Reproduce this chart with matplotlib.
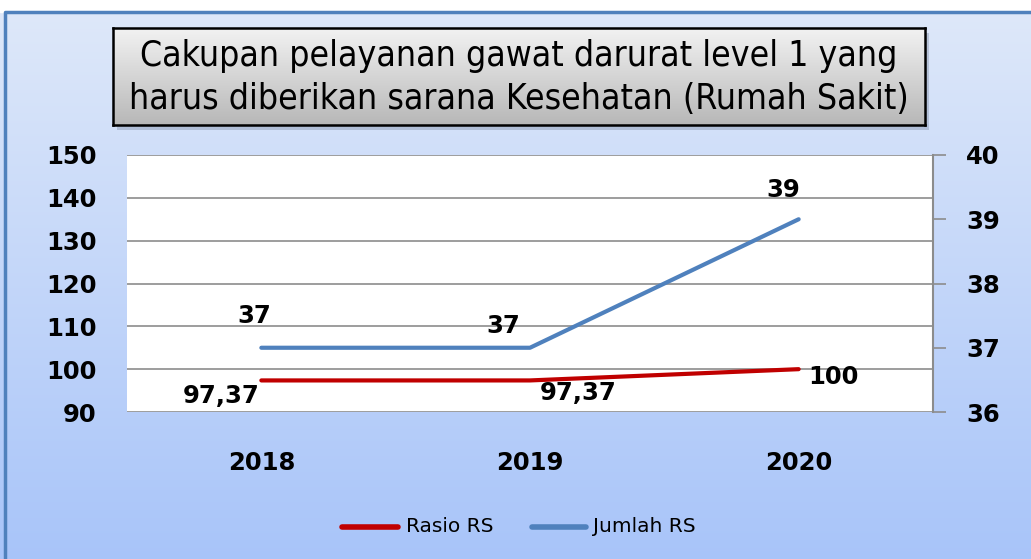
import numpy as np
import matplotlib.pyplot as plt
from matplotlib.patches import Rectangle

years = ['2018', '2019', '2020']
rasio_rs = [97.37, 97.37, 100]
jumlah_rs = [37, 37, 39]
rasio_labels = ['97,37', '97,37', '100']
jumlah_labels = ['37', '37', '39']

title_lines = ['Cakupan pelayanan gawat darurat level 1 yang',
               'harus diberikan sarana Kesehatan (Rumah Sakit)']

W, H = 1031, 559
fig = plt.figure(figsize=(W / 100, H / 100), dpi=100)

# background gradient + border
bg = fig.add_axes([0, 0, 1, 1], zorder=-10)
grad = np.linspace(0, 1, 256).reshape(-1, 1)
top = np.array([0.87, 0.91, 0.98])
bot = np.array([0.66, 0.77, 0.98])
img = top + (bot - top) * grad[:, :, None]
bg.imshow(img, aspect='auto', extent=[0, W, 0, H - 12])
bg.add_patch(Rectangle((0, H - 12), W, 12, color='white', zorder=1))
bg.plot([5, 5, W], [0, H - 12, H - 12], color='#4f81bd', lw=2.5, zorder=2)
bg.set_xlim(0, W)
bg.set_ylim(0, H)
bg.axis('off')

# plot
ax = fig.add_axes([127 / W, 1 - 412 / H, (933 - 127) / W, (412 - 155) / H])
ax.set_facecolor('white')
x = np.arange(len(years))
ax.plot(x, rasio_rs, color='#c00000', lw=3, solid_capstyle='round', zorder=3)
ax.set_xlim(-0.5, 2.5)
ax.set_ylim(90, 150)
ax.set_yticks(range(90, 151, 10))
ax.grid(axis='y', color='#8c8c8c', lw=1.2)
ax.set_axisbelow(True)
for s in ax.spines.values():
    s.set_visible(False)
ax.set_xticks(x)
ax.set_xticklabels(years)
ax.tick_params(axis='x', length=0, pad=28)
ax.tick_params(axis='y', length=0, pad=22)
for lab in ax.get_xticklabels() + ax.get_yticklabels():
    lab.set_fontsize(17.5)
    lab.set_fontweight('heavy')

ax2 = ax.twinx()
ax2.plot(x, jumlah_rs, color='#4f81bd', lw=3, solid_capstyle='round', zorder=3)
ax2.set_ylim(36, 40)
ax2.set_yticks(range(36, 41))
for k, s in ax2.spines.items():
    s.set_visible(k == 'right')
ax2.spines['right'].set_color('#8c8c8c')
ax2.spines['right'].set_linewidth(1.5)
ax2.tick_params(axis='y', direction='out', length=9, width=1.2, color='#8c8c8c', pad=15)
for lab in ax2.get_yticklabels():
    lab.set_fontsize(17.5)
    lab.set_fontweight('heavy')

lab_kw = dict(textcoords='offset pixels', ha='center', va='center',
              fontsize=17.5, fontweight='heavy', color='black')
r_off = [(-40, -16), (48, -13), (35, -8)]
j_off = [(-7, 32), (-27, 22), (-15, 29)]
for i in range(len(years)):
    ax.annotate(rasio_labels[i], (x[i], rasio_rs[i]), xytext=r_off[i], **lab_kw)
    ax2.annotate(jumlah_labels[i], (x[i], jumlah_rs[i]), xytext=j_off[i], **lab_kw)

# title box
shadow = fig.add_axes([117 / W, 1 - 130 / H, (925 - 113) / W, 97 / H], zorder=1)
shadow.set_facecolor((0.45, 0.5, 0.6, 0.35))
shadow.set_xticks([]); shadow.set_yticks([])
for s in shadow.spines.values():
    s.set_visible(False)
tb = fig.add_axes([113 / W, 1 - 125 / H, (925 - 113) / W, 97 / H], zorder=2)
g = np.linspace(0.95, 0.72, 128).reshape(-1, 1)
tb.imshow(np.dstack([g, g, g]), aspect='auto', extent=[0, 1, 0, 1])
tb.set_xlim(0, 1); tb.set_ylim(0, 1)
tb.set_xticks([]); tb.set_yticks([])
for s in tb.spines.values():
    s.set_linewidth(1.8)
    s.set_color('black')
fam = ['DejaVu Sans Condensed', 'DejaVu Sans']
tb.text(0.5, 0.71, title_lines[0], ha='center', va='center', fontsize=25.5,
        family=fam, fontstretch='condensed')
tb.text(0.5, 0.27, title_lines[1], ha='center', va='center', fontsize=25.5,
        family=fam, fontstretch='condensed')

# legend
lg = fig.add_axes([0, 0, 1, 1], zorder=3)
lg.set_xlim(0, W); lg.set_ylim(H, 0)
lg.axis('off')
lg.plot([342, 398], [527, 527], color='#c00000', lw=4, solid_capstyle='round')
lg.text(406, 527, 'Rasio RS', va='center', fontsize=14.5)
lg.plot([532, 586], [527, 527], color='#4f81bd', lw=4, solid_capstyle='round')
lg.text(593, 527, 'Jumlah RS', va='center', fontsize=14.5)

fig.savefig('out.png', dpi=100)
